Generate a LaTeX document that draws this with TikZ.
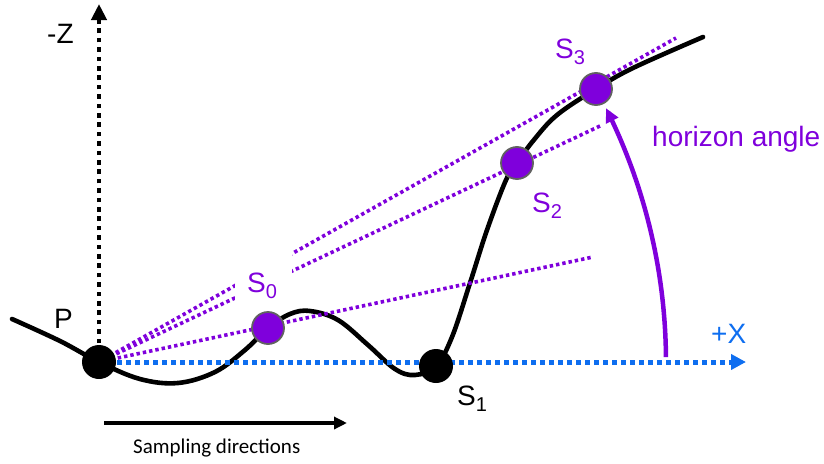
\documentclass[tikz,border=0pt]{standalone}
\usepackage{fontspec}
\setmainfont{Liberation Sans}
\newfontfamily\carlito{Carlito}
\usetikzlibrary{arrows.meta}
\definecolor{hpurple}{HTML}{7F00DC}
\definecolor{hblue}{HTML}{0E6EF0}
\newcommand\Sub[1]{\raisebox{-6pt}{\fontsize{20}{20}\selectfont #1}}
\tikzset{
  lbl/.style={inner sep=0pt, anchor=base west, font=\fontsize{28}{30}\selectfont},
  sdot/.style={circle, inner sep=0pt, minimum size=34pt},
  blackdot/.style={sdot, fill=black},
  purpledot/.style={sdot, fill=hpurple, draw=black!62, line width=1.8pt, minimum size=32pt},
  pline/.style={hpurple, line width=3.6pt, dash pattern=on 3.4pt off 3pt},
  zaxis/.style={black, line width=4.6pt, dash pattern=on 4.6pt off 4.8pt, -{Triangle[length=16pt,width=15pt]}},
  xaxis/.style={hblue, line width=5pt, dash pattern=on 5pt off 4pt, -{Triangle[length=15pt,width=15pt]}},
  terrain/.style={black, line width=4.6pt, line cap=round},
}
\begin{document}
\begin{tikzpicture}[x=1pt,y=-1pt]
\useasboundingbox (0,0) rectangle (824,463);
% positions
\coordinate (p) at (99,362);
\coordinate (s0) at (268,328);
\coordinate (s1) at (436,366);
\coordinate (s2) at (517,163);
\coordinate (s3) at (596,89);
\coordinate (ztop) at (99,4);
\coordinate (xend) at (746,362);
\coordinate (l1) at (593,257);
\coordinate (l2) at (600,126);
\coordinate (l3) at (676,38);
% terrain
\draw[terrain] plot[smooth, tension=0.6] coordinates {(12,319) (60,341) (99,362) (140,379) (178,383) (215,372) (245,350) (268,328) (290,314) (310,311) (338,320) (368,345) (395,369) (415,375) (436,366) (452,337) (470,283) (487,230) (506,180) (517,163) (533,141) (557,115) (596,89) (633,68) (703,37)};
% axes
\draw[zaxis] (p) -- (ztop);
\draw[xaxis] (p) -- (xend);
% sampling lines
\draw[pline] (p) -- (l1);
\draw[pline] (p) -- (l2);
\draw[pline] (p) -- (l3);
\fill[white] (235,252) rectangle (292,304);
% horizon arc
\draw[hpurple, line width=4.5pt, -{Triangle[length=14pt,width=13pt]}]
  plot[smooth, samples=40, domain=0.5:26.6] ({99+567*cos(\x)},{362-567*sin(\x)});
% points
\node[blackdot] (P) at (p) {};
\node[blackdot] (S1) at (s1) {};
\node[purpledot] (S0) at (s0) {};
\node[purpledot] (S2) at (s2) {};
\node[purpledot] (S3) at (s3) {};
% labels
\node[lbl] (zl) at (47,43) {-Z};
\node[lbl] (pl) at (54,328) {P};
\node[lbl, text=hpurple] (s0l) at (247,292) {S\Sub{0}};
\node[lbl] (s1l) at (457,405) {S\Sub{1}};
\node[lbl, text=hpurple] (s2l) at (532,212) {S\Sub{2}};
\node[lbl, text=hpurple] (s3l) at (555,58) {S\Sub{3}};
\node[lbl, text=hpurple] (hl) at (652,146) {horizon angle};
\node[lbl, text=hblue] (xl) at (711,343) {+X};
% sampling directions
\coordinate (sa) at (104,423);
\coordinate (sb) at (347,423);
\draw[line width=4.5pt, -{Triangle[length=13pt,width=12pt]}] (sa) -- (sb);
\node[inner sep=0pt, anchor=base west, font=\carlito\fontsize{21}{24}\selectfont] (sd) at (133,453) {Sampling directions};
\end{tikzpicture}
\end{document}
